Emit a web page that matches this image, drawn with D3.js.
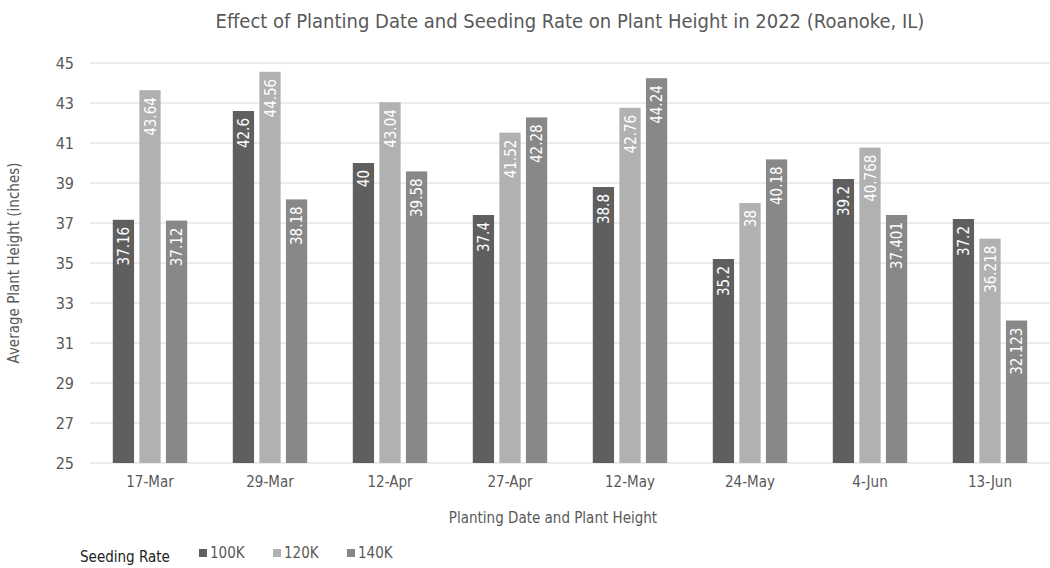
<!DOCTYPE html>
<html>
<head>
<meta charset="utf-8">
<script src="https://cdn.jsdelivr.net/npm/d3@7"></script>
<style>
  body { margin: 0; background: #fff; }
  svg text { font-family: "Liberation Sans Narrow", "DejaVu Sans Condensed", "Roboto", sans-serif; }
</style>
</head>
<body>
<div class="chart_box"></div>
<script>
var dates = ["17-Mar", "29-Mar", "12-Apr", "27-Apr", "12-May", "24-May", "4-Jun", "13-Jun"];
var rates = ["100K", "120K", "140K"];
var height100 = [37.16, 42.6, 40, 37.4, 38.8, 35.2, 39.2, 37.2];
var height120 = [43.64, 44.56, 43.04, 41.52, 42.76, 38, 40.768, 36.218];
var height140 = [37.12, 38.18, 39.58, 42.28, 44.24, 40.18, 37.401, 32.123];
var yTicks = [25, 27, 29, 31, 33, 35, 37, 39, 41, 43, 45];

var series = [height100, height120, height140];
var colors = {"100K": "#5f5f5f", "120K": "#b1b1b1", "140K": "#888888"};
var textColor = "#595959";

var width = 1050, height = 568;
var margin = {top: 63, right: 0, bottom: 105, left: 90};

var svg = d3.select(".chart_box")
  .append("svg")
  .attr("width", width)
  .attr("height", height);

var x0 = d3.scaleBand()
  .domain(dates)
  .range([margin.left, width - margin.right])
  .paddingInner(0.38)
  .paddingOuter(0.19);

var x1 = d3.scaleBand()
  .domain(rates)
  .range([0, x0.bandwidth()])
  .paddingInner(0.2);

var y = d3.scaleLinear()
  .domain([25, 45])
  .range([height - margin.bottom, margin.top]);

// gridlines
svg.append("g")
  .selectAll("line")
  .data(yTicks)
  .enter().append("line")
  .attr("x1", margin.left)
  .attr("x2", width - margin.right)
  .attr("y1", function(d) { return y(d); })
  .attr("y2", function(d) { return y(d); })
  .style("stroke", "#d9d9d9")
  .style("stroke-width", 1);

// y tick labels
var yAxis = svg.append("g")
  .attr("transform", "translate(" + (margin.left - 16) + ",0)")
  .call(d3.axisLeft(y).tickValues(yTicks).tickSize(0).tickPadding(0));
yAxis.select(".domain").remove();
yAxis.selectAll("text")
  .attr("fill", textColor)
  .attr("font-size", "16px");

// x tick labels
var xAxis = svg.append("g")
  .attr("transform", "translate(0," + (height - margin.bottom) + ")")
  .call(d3.axisBottom(x0).tickSize(0).tickPadding(13));
xAxis.select(".domain").remove();
xAxis.selectAll("text")
  .attr("fill", textColor)
  .attr("font-size", "15px");

// bars
var groups = svg.append("g")
  .selectAll("g")
  .data(dates)
  .enter().append("g")
  .attr("transform", function(d) { return "translate(" + x0(d) + ",0)"; });

groups.selectAll("rect")
  .data(function(d, i) { return rates.map(function(r, j) { return {rate: r, value: series[j][i]}; }); })
  .enter().append("rect")
  .attr("x", function(d) { return x1(d.rate); })
  .attr("width", x1.bandwidth())
  .attr("y", function(d) { return y(d.value); })
  .attr("height", function(d) { return y(25) - y(d.value); })
  .style("fill", function(d) { return colors[d.rate]; });

groups.selectAll("text")
  .data(function(d, i) { return rates.map(function(r, j) { return {rate: r, value: series[j][i]}; }); })
  .enter().append("text")
  .attr("transform", function(d) {
    return "translate(" + (x1(d.rate) + x1.bandwidth() / 2 + 5.5) + "," + (y(d.value) + 7) + ") rotate(-90)";
  })
  .attr("text-anchor", "end")
  .attr("fill", "#ffffff")
  .attr("font-size", "15px")
  .text(function(d) { return d.value; });

// title
svg.append("text")
  .attr("x", 570)
  .attr("y", 28)
  .attr("text-anchor", "middle")
  .attr("fill", textColor)
  .attr("font-size", "20px")
  .text("Effect of Planting Date and Seeding Rate on Plant Height in 2022 (Roanoke, IL)");

// axis titles
svg.append("text")
  .attr("transform", "translate(19," + 263 + ") rotate(-90)")
  .attr("text-anchor", "middle")
  .attr("fill", textColor)
  .attr("font-size", "15px")
  .text("Average Plant Height (inches)");

svg.append("text")
  .attr("x", 553)
  .attr("y", 523)
  .attr("text-anchor", "middle")
  .attr("fill", textColor)
  .attr("font-size", "15px")
  .text("Planting Date and Plant Height");

// legend
svg.append("text")
  .attr("x", 80)
  .attr("y", 562)
  .attr("fill", "#222222")
  .attr("font-size", "15px")
  .text("Seeding Rate");

var legendX = [199, 273, 347];
var legend = svg.append("g")
  .selectAll("g")
  .data(rates)
  .enter().append("g")
  .attr("transform", function(d, i) { return "translate(" + legendX[i] + ",549)"; });

legend.append("rect")
  .attr("width", 8)
  .attr("height", 8)
  .style("fill", function(d) { return colors[d]; });

legend.append("text")
  .attr("x", 11)
  .attr("y", 8.5)
  .attr("fill", textColor)
  .attr("font-size", "15px")
  .text(function(d) { return d; });
</script>
</body>
</html>
